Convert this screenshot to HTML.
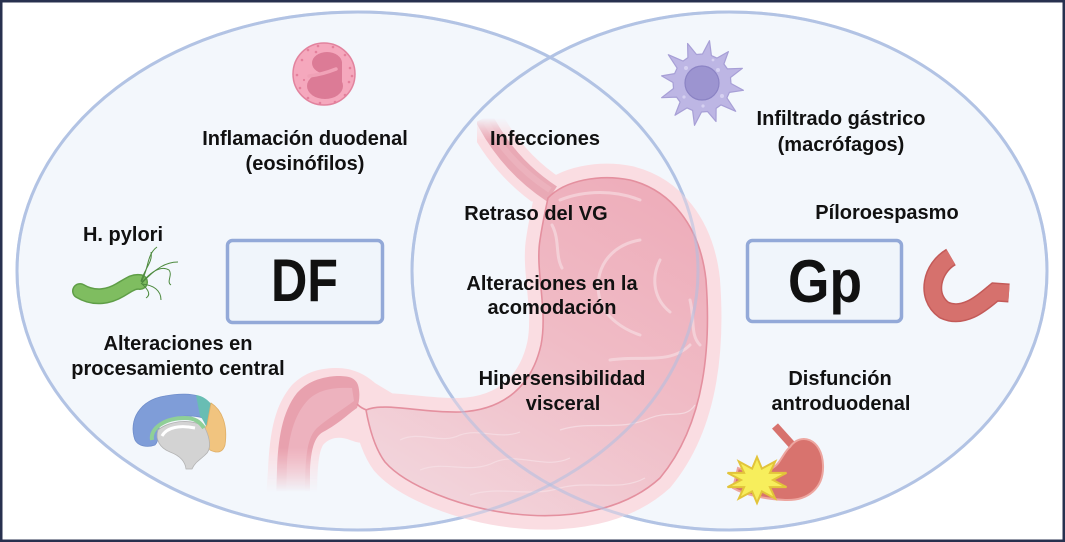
<!DOCTYPE html>
<html><head><meta charset="utf-8"><style>
html,body{margin:0;padding:0;background:#fff;}
svg{display:block;}
text{font-family:"Liberation Sans",Arial,sans-serif;font-weight:bold;fill:#111;}
</style></head><body>
<svg width="1065" height="542" viewBox="0 0 1065 542" xmlns="http://www.w3.org/2000/svg">
<defs>
<linearGradient id="sg" x1="620" y1="180" x2="430" y2="505" gradientUnits="userSpaceOnUse">
<stop offset="0" stop-color="#eeaebb"/><stop offset="0.45" stop-color="#f0bcc6"/><stop offset="1" stop-color="#f2d5dc"/>
</linearGradient>
<linearGradient id="fd" x1="0" y1="448" x2="0" y2="492" gradientUnits="userSpaceOnUse">
<stop offset="0" stop-color="#fff"/><stop offset="1" stop-color="#000"/>
</linearGradient>
<linearGradient id="fe" x1="0" y1="118" x2="0" y2="140" gradientUnits="userSpaceOnUse">
<stop offset="0" stop-color="#000"/><stop offset="1" stop-color="#fff"/>
</linearGradient>
<mask id="mD"><rect x="220" y="330" width="200" height="210" fill="url(#fd)"/></mask>
<mask id="mE"><rect x="450" y="100" width="140" height="120" fill="url(#fe)"/></mask>
</defs>
<rect x="0" y="0" width="1065" height="542" fill="#fff"/>
<!-- ellipses -->
<ellipse cx="357.5" cy="271" rx="340.5" ry="259" fill="#f3f7fc"/>
<ellipse cx="729.5" cy="271" rx="317.5" ry="259" fill="#f3f7fc"/>
<ellipse cx="357.5" cy="271" rx="340.5" ry="259" fill="none" stroke="#b7c8e6" stroke-width="3"/>
<ellipse cx="729.5" cy="271" rx="317.5" ry="259" fill="none" stroke="#b7c8e6" stroke-width="3"/>

<!-- stomach halo -->
<g mask="url(#mD)">
<path d="M266,500 L268,470 C270,430 275,405 292,385 C305,372 320,368 337,368 C352,368 365,374 375,383 L395,395 L372,440 C362,445 356,442 350,440 C340,436 330,437 323,445 C319,452 317,465 317,500 Z" fill="#fadde2"/>
</g>
<g mask="url(#mE)">
<path d="M484,118 Q508,165 552,194" fill="none" stroke="#fadde2" stroke-width="36"/>
</g>
<path d="M548,198 C565,180 600,174 630,180 C670,190 700,225 706,280 C712,360 700,430 660,478 C625,510 570,520 515,514 C460,508 405,485 385,462 C376,450 370,432 366,410 C385,402 420,413 460,412 C505,410 532,385 541,345 C548,310 535,270 540,240 C543,220 546,208 548,198 Z" fill="#fadde2" stroke="#fadde2" stroke-width="28" stroke-linejoin="round"/>
<!-- duodenum -->
<g mask="url(#mD)">
<path d="M276,500 L277,470 C278,440 282,412 297,393 C307,382 320,377 337,376 C348,376 355,377 358,385 C360,392 360,400 357,408 C348,414 340,423 323,432 C314,437 311,450 310,470 L310,500 Z" fill="#e8a1ae"/>
<path d="M286,500 L287,462 C289,432 296,412 309,399 C319,390 332,387 352,388 L354,401 C342,410 327,419 317,428 C307,438 305,455 305,500 Z" fill="#edb2be"/>
</g>
<!-- esophagus -->
<g mask="url(#mE)">
<path d="M484,118 Q508,165 552,194" fill="none" stroke="#e9a9b5" stroke-width="18"/>
<path d="M486,122 Q509,163 550,190" fill="none" stroke="#edb6c1" stroke-width="6" opacity="0.7"/>
</g>
<!-- stomach body -->
<path d="M548,198 C565,180 600,174 630,180 C670,190 700,225 706,280 C712,360 700,430 660,478 C625,510 570,520 515,514 C460,508 405,485 385,462 C376,450 370,432 366,410 C385,402 420,413 460,412 C505,410 532,385 541,345 C548,310 535,270 540,240 C543,220 546,208 548,198 Z" fill="url(#sg)" stroke="#e4909f" stroke-width="1.6"/>
<path d="M357,404 C360,407 363,409 367,410" fill="none" stroke="#e4909f" stroke-width="1.6"/>
<!-- folds -->
<g fill="none" stroke="#f8e2e7" stroke-width="3" opacity="0.6" stroke-linecap="round">
<path d="M560,200 C585,190 615,190 640,200"/>
<path d="M552,225 C560,240 555,255 562,268"/>
<path d="M640,240 C610,245 592,270 600,300 C605,318 625,330 640,335"/>
<path d="M660,260 C650,280 655,300 670,312"/>
<path d="M610,360 C640,355 670,365 690,345"/>
<path d="M690,300 C695,320 690,335 700,345"/>
</g>
<g fill="none" stroke="#f6dfe5" stroke-width="1.2" opacity="0.8">
<path d="M400,440 C420,430 440,445 460,435 C480,428 500,440 520,432"/>
<path d="M420,470 C445,460 470,475 495,462 C520,452 545,470 570,458"/>
<path d="M470,495 C500,485 530,498 560,488 C590,480 620,492 645,478"/>
<path d="M560,430 C590,420 620,432 650,418 C670,410 685,420 695,405"/>
</g>
<!-- ellipse strokes over stomach -->
<ellipse cx="357.5" cy="271" rx="340.5" ry="259" fill="none" stroke="#aebfe2" stroke-width="3" opacity="0.55"/>
<ellipse cx="729.5" cy="271" rx="317.5" ry="259" fill="none" stroke="#aebfe2" stroke-width="3" opacity="0.55"/>

<!-- eosinophil -->
<circle cx="324" cy="74" r="31" fill="#f5a8bd" stroke="#e2839e" stroke-width="1.5"/>
<g fill="#e4809c">
<circle cx="302" cy="60" r="1.3"/><circle cx="308" cy="50" r="1.3"/><circle cx="318" cy="46" r="1.3"/><circle cx="333" cy="47" r="1.3"/><circle cx="345" cy="55" r="1.3"/><circle cx="350" cy="68" r="1.3"/><circle cx="349" cy="82" r="1.3"/><circle cx="345" cy="95" r="1.3"/><circle cx="335" cy="102" r="1.3"/><circle cx="320" cy="103" r="1.3"/><circle cx="308" cy="98" r="1.3"/><circle cx="300" cy="88" r="1.3"/><circle cx="297" cy="75" r="1.3"/><circle cx="352" cy="76" r="1.3"/><circle cx="316" cy="52" r="1.3"/><circle cx="304" cy="80" r="1.1"/>
</g>
<ellipse cx="327" cy="63" rx="15" ry="11" fill="#dc7b96"/>
<ellipse cx="325" cy="86" rx="18" ry="13" fill="#dc7b96"/>
<rect x="330" y="62" width="12" height="24" fill="#dc7b96"/>
<path d="M309,76 C318,75 326,73 336,69" fill="none" stroke="#f0a2b7" stroke-width="3.5" stroke-linecap="round"/>

<!-- macrophage -->
<polygon points="731.0,83.5 743.4,90.3 729.4,92.4 726.9,97.9 735.7,111.3 721.0,104.9 716.1,108.4 716.0,121.5 707.5,111.5 701.5,112.0 694.5,125.3 692.6,110.4 687.1,107.9 675.0,115.2 680.1,102.0 676.6,97.1 661.6,97.7 673.5,88.5 673.0,82.5 661.6,75.9 674.6,73.6 677.1,68.1 668.3,54.7 683.0,61.1 687.9,57.6 687.6,43.5 696.5,54.5 702.5,54.0 709.5,40.7 711.4,55.6 716.9,58.1 728.4,51.6 723.9,64.0 727.4,68.9 742.4,68.3 730.5,77.5" fill="#bdb6e4" stroke="#a79fd6" stroke-width="1.2" stroke-linejoin="round"/>
<circle cx="702" cy="83" r="17" fill="#9c94d0" stroke="#8b83c4" stroke-width="1.2"/>
<g fill="#d6d1f1"><circle cx="686" cy="68" r="2"/><circle cx="718" cy="70" r="2"/><circle cx="722" cy="96" r="2"/><circle cx="684" cy="97" r="1.6"/><circle cx="703" cy="106" r="1.6"/><circle cx="713" cy="60" r="1.4"/></g>

<!-- H. pylori -->
<path d="M80,291 C95,300 110,296 120,290 S134,281 140,282" fill="none" stroke="#5f9e47" stroke-width="16" stroke-linecap="round"/>
<path d="M80,291 C95,300 110,296 120,290 S134,281 140,282" fill="none" stroke="#7fbd60" stroke-width="13" stroke-linecap="round"/>
<g fill="none" stroke="#4d8a3e" stroke-width="1">
<path d="M141,282 C149,270 146,255 157,247"/>
<path d="M142,283 C156,268 166,262 178,262"/>
<path d="M142,284 C153,285 161,290 161,300"/>
<path d="M141,283 C149,290 151,295 146,298"/>
<path d="M142,282 C151,272 161,265 169,270 C173,275 166,282 171,285"/>
<path d="M141,281 C145,268 153,262 151,252"/>
</g>

<!-- brain -->
<path d="M135,440 C128,420 140,400 165,396 C180,393 192,394 198,396 L203,418 C190,414 170,416 160,425 C157,432 160,440 155,445 C147,448 138,446 135,440 Z" fill="#7f9dd8" stroke="#6f8dca" stroke-width="0.8"/>
<path d="M196,395 C203,396 208,400 212,405 L207,428 C204,422 202,418 200,416 Z" fill="#68bdb3"/>
<path d="M211,403 C222,410 228,425 225,445 C222,455 214,452 210,450 C203,440 203,430 207,425 Z" fill="#f1c47f" stroke="#e0b068" stroke-width="0.8"/>
<path d="M158,430 C170,420 195,418 205,428 C210,438 212,450 205,455 C200,460 195,462 192,469 L186,469 C185,460 178,455 170,452 C160,448 155,440 158,430 Z" fill="#d3d3d3" stroke="#b3b3b3" stroke-width="0.8"/>
<path d="M152,440 C150,428 165,418 185,418 C195,418 200,422 204,428" fill="none" stroke="#8fcf97" stroke-width="4"/>
<path d="M162,436 C167,427 180,425 195,428" fill="none" stroke="#fff" stroke-width="3"/>

<!-- pylorus icon -->
<path d="M951,257 C932,268 925,296 944,310 C965,320 985,300 995,292 L1009,293" fill="none" stroke="#c35a58" stroke-width="19"/>
<path d="M951,257 C932,268 925,296 944,310 C965,320 985,300 995,292 L1009,293" fill="none" stroke="#d6716d" stroke-width="16"/>

<!-- small stomach -->
<path d="M775,426 L793,446" stroke="#d7726d" stroke-width="8" fill="none"/>
<path d="M790,447 C800,432 822,438 823,465 C824,488 808,501 785,500 C765,499 745,495 733,488 L738,468 C756,475 772,472 779,462 C784,455 786,450 790,447 Z" fill="#d8736e" stroke="#eda6a0" stroke-width="2"/>
<polygon points="757,457 761.9,468.6 775.2,461.4 769.9,472.9 786.5,472.9 773,480 786.5,487.1 769.9,487.1 775.2,498.6 761.9,491.4 757,503 752.1,491.4 738.8,498.6 744.1,487.1 727.5,487.1 741,480 727.5,472.9 744.1,472.9 738.8,461.4 752.1,468.6" fill="#f7ee5c" stroke="#e2c43a" stroke-width="2"/>

<!-- boxes -->
<rect x="227.5" y="240.5" width="155" height="82" rx="5" fill="#f0f5fb" stroke="#93a9d8" stroke-width="3.5"/>
<rect x="747.5" y="240.5" width="154" height="81" rx="5" fill="#f0f5fb" stroke="#93a9d8" stroke-width="3.5"/>
<text x="304.5" y="301" font-size="60" text-anchor="middle" textLength="67" lengthAdjust="spacingAndGlyphs">DF</text>
<text x="825" y="302" font-size="60" text-anchor="middle" textLength="74" lengthAdjust="spacingAndGlyphs">Gp</text>

<!-- labels -->
<g font-size="20" text-anchor="middle">
<text x="305" y="145">Inflamación duodenal</text>
<text x="305" y="170">(eosinófilos)</text>
<text x="123" y="241">H. pylori</text>
<text x="178" y="350">Alteraciones en</text>
<text x="178" y="375">procesamiento central</text>
<text x="545" y="145">Infecciones</text>
<text x="536" y="220">Retraso del VG</text>
<text x="552" y="290">Alteraciones en la</text>
<text x="552" y="314">acomodación</text>
<text x="562" y="385">Hipersensibilidad</text>
<text x="563" y="410">visceral</text>
<text x="841" y="125">Infiltrado gástrico</text>
<text x="841" y="151">(macrófagos)</text>
<text x="887" y="219">Píloroespasmo</text>
<text x="840" y="385">Disfunción</text>
<text x="841" y="410">antroduodenal</text>
</g>

<!-- frame -->
<rect x="1.25" y="1.25" width="1062.5" height="539.5" fill="none" stroke="#28314f" stroke-width="2.5"/>
</svg>
</body></html>
